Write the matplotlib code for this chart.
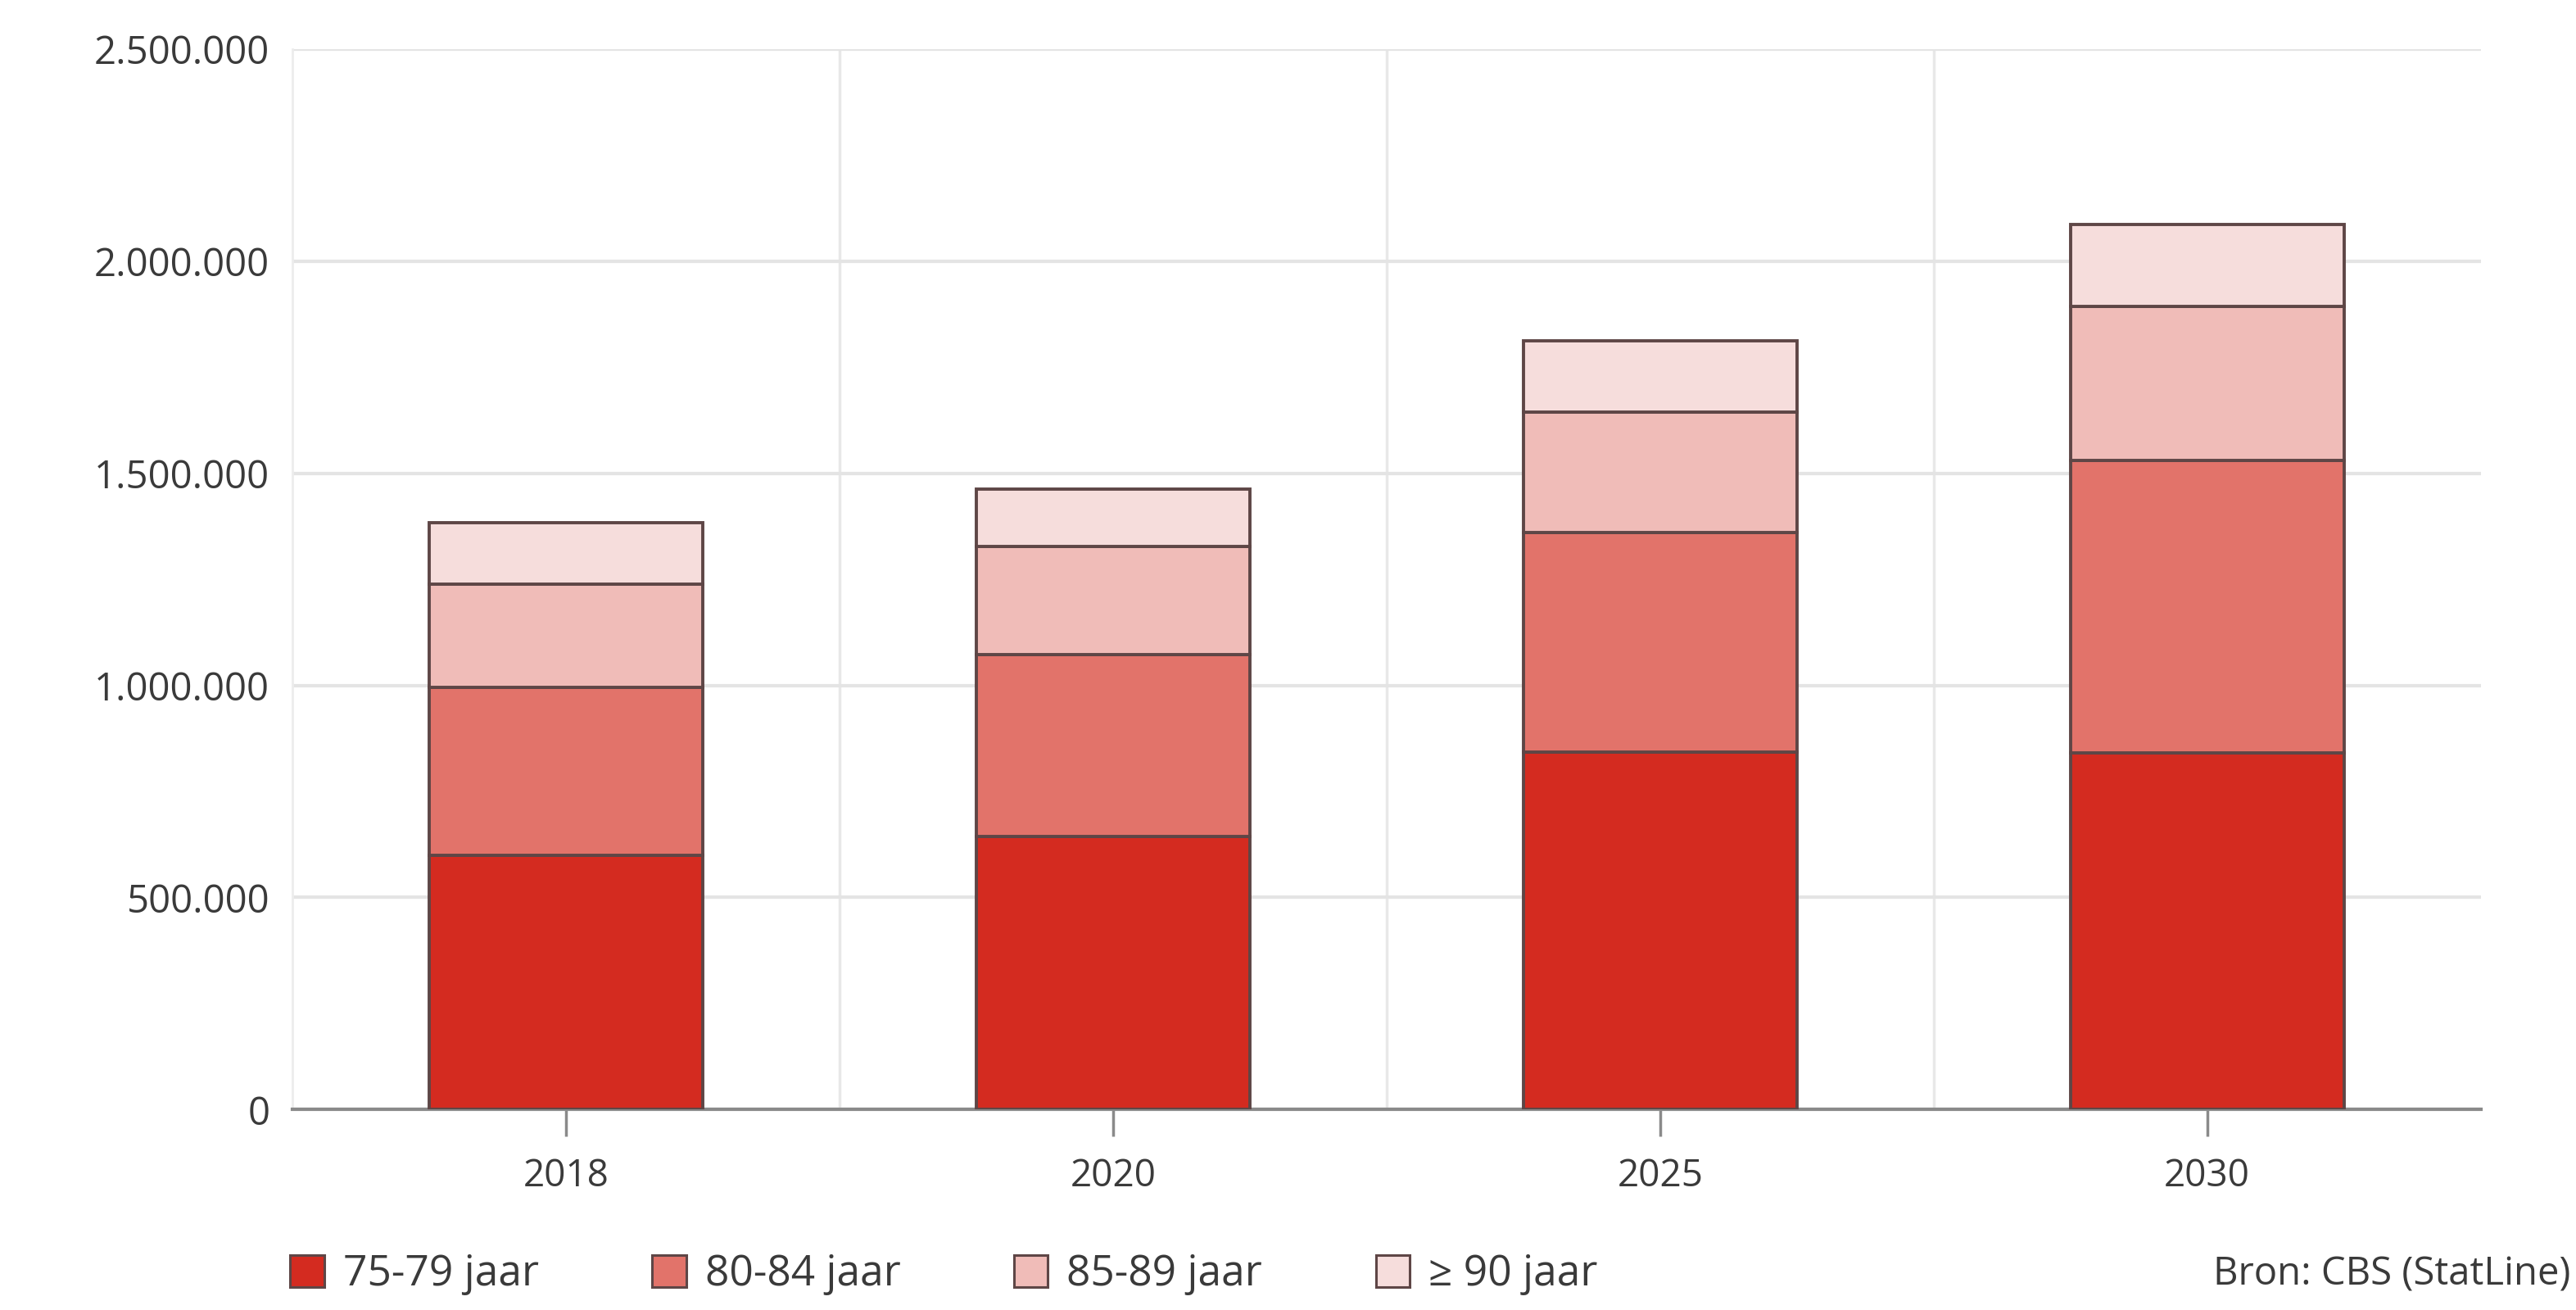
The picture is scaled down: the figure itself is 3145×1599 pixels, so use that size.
import matplotlib
matplotlib.use("Agg")
import matplotlib.pyplot as plt
from matplotlib.patches import Patch
from matplotlib.ticker import FuncFormatter
import numpy as np

years = ["2018", "2020", "2025", "2030"]
groups = ["75-79 jaar", "80-84 jaar", "85-89 jaar", "\u2265 90 jaar"]
# persons per age group
v_75_79 = [600000, 643000, 843000, 841000]
v_80_84 = [396000, 430000, 517000, 690000]
v_85_89 = [243000, 254000, 285000, 363000]
v_90_plus = [144000, 136000, 168000, 193000]
colors = ["#d42b20", "#e2736a", "#f0bcb8", "#f6dddc"]
source = "Bron: CBS (StatLine)"

plt.rcParams["font.family"] = ["Open Sans", "DejaVu Sans"]
txt = "#3a3a3a"

fig = plt.figure(figsize=(31.45, 15.99), dpi=100)
ax = fig.add_axes([0.1135, 0.153, 0.8495, 0.8095])

x = np.arange(len(years))
bottom = np.zeros(len(years))
for vals, col, lab in zip([v_75_79, v_80_84, v_85_89, v_90_plus], colors, groups):
    ax.bar(x, vals, width=0.5, bottom=bottom, color=col, edgecolor="#5e4646",
           linewidth=2.8, label=lab, zorder=3)
    bottom += np.array(vals)

ax.set_xlim(-0.5, 3.5)
ax.set_ylim(0, 2500000)
ax.set_yticks(np.arange(0, 2500001, 500000))
ax.yaxis.set_major_formatter(FuncFormatter(lambda v, p: f"{v:,.0f}".replace(",", ".")))
ax.set_xticks(x)
ax.set_xticklabels(years)

ax.grid(axis="y", color="#e4e4e4", linewidth=3, zorder=0)
for xb in [0.5, 1.5, 2.5]:
    ax.axvline(xb, color="#e8e8e8", linewidth=2.5, zorder=0)

for s in ["top", "right"]:
    ax.spines[s].set_visible(False)
ax.spines["left"].set_color("#ececec")
ax.spines["left"].set_linewidth(2)
ax.spines["bottom"].set_color("#8a8a8a")
ax.spines["bottom"].set_linewidth(3)

ax.tick_params(axis="y", length=0, pad=20, labelsize=34, labelcolor=txt)
ax.tick_params(axis="x", length=24, width=2.5, color="#8a8a8a", pad=18,
               labelsize=33, labelcolor=txt)

handles = [Patch(facecolor=c, edgecolor="#5e4646", linewidth=2.2) for c in colors]
fig.legend(handles, groups, loc="center left", bbox_to_anchor=(0.098, 0.027),
           ncol=4, frameon=False, fontsize=37, labelcolor=txt,
           handlelength=0.8, handleheight=0.8, handletextpad=0.45,
           columnspacing=2.7)

fig.text(0.998, 0.027, source, ha="right", va="center", fontsize=34, color=txt)

plt.savefig("out.png", dpi=100)
